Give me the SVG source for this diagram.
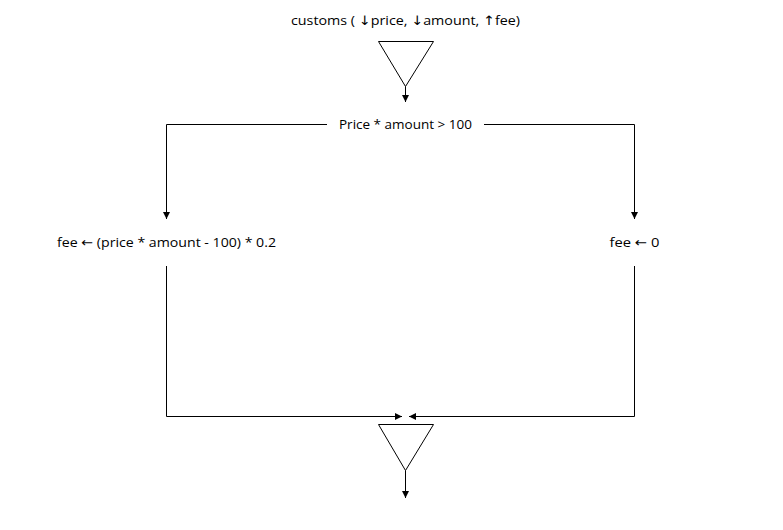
<svg xmlns="http://www.w3.org/2000/svg" width="783" height="530" viewBox="0 0 783 530">
<style>
text{font-family:"Open Sans","Liberation Sans",sans-serif;font-size:13px;fill:#000;text-anchor:middle}
.ar{font-family:"DejaVu Sans",sans-serif;font-size:13px}
.ln{fill:none;stroke:#000;stroke-width:1}
.tri{fill:#fff;stroke:#000;stroke-width:1}
</style>
<defs>
<marker id="ah" viewBox="0 0 10 10" refX="10" refY="5" markerWidth="7" markerHeight="7" markerUnits="userSpaceOnUse" orient="auto">
<path d="M0,0L10,5L0,10z" fill="#000"/>
</marker>
</defs>
<rect width="783" height="530" fill="#fff"/>
<g id="start">
<text x="405.5" y="25" textLength="229" lengthAdjust="spacingAndGlyphs">customs ( <tspan class="ar">↓</tspan>price, <tspan class="ar">↓</tspan>amount, <tspan class="ar">↑</tspan>fee)</text>
<polygon class="tri" points="378.5,41.5 433.5,41.5 405.5,86.5"/>
</g>
<g id="decision">
<text x="405.5" y="129" textLength="133" lengthAdjust="spacingAndGlyphs">Price * amount &gt; 100</text>
</g>
<g id="left">
<text x="166.5" y="247" textLength="219" lengthAdjust="spacingAndGlyphs">fee <tspan class="ar">←</tspan> (price * amount - 100) * 0.2</text>
</g>
<g id="right">
<text x="634.5" y="247" textLength="50" lengthAdjust="spacingAndGlyphs">fee <tspan class="ar">←</tspan> 0</text>
</g>
<g id="end">
<polygon class="tri" points="378.5,424.5 433.5,424.5 405.5,470.5"/>
</g>
<g id="connectors">
<path class="ln" d="M405.5,86.5V102" marker-end="url(#ah)"/>
<path class="ln" d="M327,124.5H166.5V219" marker-end="url(#ah)"/>
<path class="ln" d="M484,124.5H634.5V219" marker-end="url(#ah)"/>
<path class="ln" d="M166.5,266V416.5H402" marker-end="url(#ah)"/>
<path class="ln" d="M634.5,266V416.5H409" marker-end="url(#ah)"/>
<path class="ln" d="M405.5,470.5V498" marker-end="url(#ah)"/>
</g>
</svg>
